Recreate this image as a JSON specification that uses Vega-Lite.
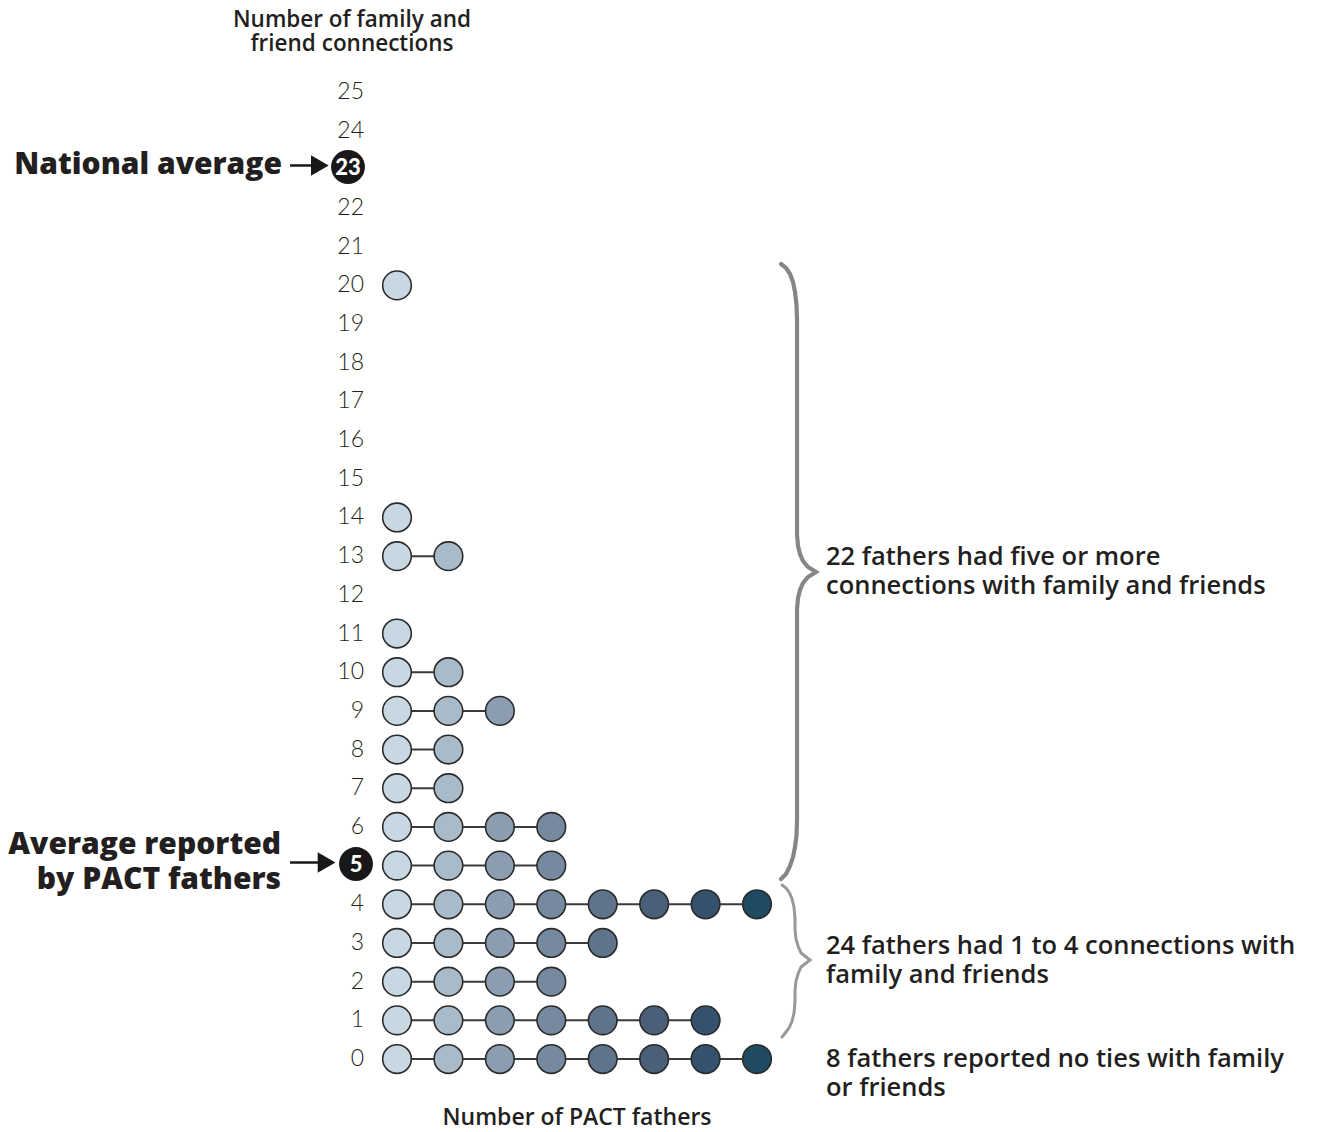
{
  "$schema": "https://vega.github.io/schema/vega-lite/v6.json",
  "width": 1317,
  "height": 1132,
  "autosize": {"type": "none"},
  "padding": 0,
  "background": "white",
  "config": {"view": {"stroke": null}, "text": {"font": "Open Sans", "color": "#231f20"}},
  "datasets": {
    "one": [{}],
    "dots": [
      {"connections": 20, "father": 1},
      {"connections": 14, "father": 1},
      {"connections": 13, "father": 1}, {"connections": 13, "father": 2},
      {"connections": 11, "father": 1},
      {"connections": 10, "father": 1}, {"connections": 10, "father": 2},
      {"connections": 9, "father": 1}, {"connections": 9, "father": 2}, {"connections": 9, "father": 3},
      {"connections": 8, "father": 1}, {"connections": 8, "father": 2},
      {"connections": 7, "father": 1}, {"connections": 7, "father": 2},
      {"connections": 6, "father": 1}, {"connections": 6, "father": 2}, {"connections": 6, "father": 3}, {"connections": 6, "father": 4},
      {"connections": 5, "father": 1}, {"connections": 5, "father": 2}, {"connections": 5, "father": 3}, {"connections": 5, "father": 4},
      {"connections": 4, "father": 1}, {"connections": 4, "father": 2}, {"connections": 4, "father": 3}, {"connections": 4, "father": 4},
      {"connections": 4, "father": 5}, {"connections": 4, "father": 6}, {"connections": 4, "father": 7}, {"connections": 4, "father": 8},
      {"connections": 3, "father": 1}, {"connections": 3, "father": 2}, {"connections": 3, "father": 3}, {"connections": 3, "father": 4}, {"connections": 3, "father": 5},
      {"connections": 2, "father": 1}, {"connections": 2, "father": 2}, {"connections": 2, "father": 3}, {"connections": 2, "father": 4},
      {"connections": 1, "father": 1}, {"connections": 1, "father": 2}, {"connections": 1, "father": 3}, {"connections": 1, "father": 4},
      {"connections": 1, "father": 5}, {"connections": 1, "father": 6}, {"connections": 1, "father": 7},
      {"connections": 0, "father": 1}, {"connections": 0, "father": 2}, {"connections": 0, "father": 3}, {"connections": 0, "father": 4},
      {"connections": 0, "father": 5}, {"connections": 0, "father": 6}, {"connections": 0, "father": 7}, {"connections": 0, "father": 8}
    ],
    "levels": [
      {"connections": 0}, {"connections": 1}, {"connections": 2}, {"connections": 3}, {"connections": 4},
      {"connections": 5}, {"connections": 6}, {"connections": 7}, {"connections": 8}, {"connections": 9},
      {"connections": 10}, {"connections": 11}, {"connections": 12}, {"connections": 13}, {"connections": 14},
      {"connections": 15}, {"connections": 16}, {"connections": 17}, {"connections": 18}, {"connections": 19},
      {"connections": 20}, {"connections": 21}, {"connections": 22}, {"connections": 23}, {"connections": 24},
      {"connections": 25}
    ],
    "braces": [
      {"brace": "A", "o": 1, "c": 8.467, "v": 20.553},
      {"brace": "A", "o": 2, "c": 8.564, "v": 20.450},
      {"brace": "A", "o": 3, "c": 8.642, "v": 20.295},
      {"brace": "A", "o": 4, "c": 8.700, "v": 20.088},
      {"brace": "A", "o": 5, "c": 8.739, "v": 19.829},
      {"brace": "A", "o": 6, "c": 8.768, "v": 19.493},
      {"brace": "A", "o": 7, "c": 8.778, "v": 19.105},
      {"brace": "A", "o": 8, "c": 8.778, "v": 13.547},
      {"brace": "A", "o": 9, "c": 8.797, "v": 13.263},
      {"brace": "A", "o": 10, "c": 8.836, "v": 13.056},
      {"brace": "A", "o": 11, "c": 8.894, "v": 12.875},
      {"brace": "A", "o": 12, "c": 8.992, "v": 12.720},
      {"brace": "A", "o": 13, "c": 9.147, "v": 12.590},
      {"brace": "A", "o": 14, "c": 8.992, "v": 12.461},
      {"brace": "A", "o": 15, "c": 8.894, "v": 12.306},
      {"brace": "A", "o": 16, "c": 8.836, "v": 12.125},
      {"brace": "A", "o": 17, "c": 8.797, "v": 11.918},
      {"brace": "A", "o": 18, "c": 8.778, "v": 11.634},
      {"brace": "A", "o": 19, "c": 8.778, "v": 6.179},
      {"brace": "A", "o": 20, "c": 8.768, "v": 5.791},
      {"brace": "A", "o": 21, "c": 8.739, "v": 5.481},
      {"brace": "A", "o": 22, "c": 8.700, "v": 5.222},
      {"brace": "A", "o": 23, "c": 8.642, "v": 4.990},
      {"brace": "A", "o": 24, "c": 8.564, "v": 4.783},
      {"brace": "A", "o": 25, "c": 8.467, "v": 4.654},
      {"brace": "B", "o": 1, "c": 8.486, "v": 4.498},
      {"brace": "B", "o": 2, "c": 8.564, "v": 4.421},
      {"brace": "B", "o": 3, "c": 8.632, "v": 4.292},
      {"brace": "B", "o": 4, "c": 8.681, "v": 4.136},
      {"brace": "B", "o": 5, "c": 8.719, "v": 3.930},
      {"brace": "B", "o": 6, "c": 8.739, "v": 3.645},
      {"brace": "B", "o": 7, "c": 8.739, "v": 3.335},
      {"brace": "B", "o": 8, "c": 8.758, "v": 3.102},
      {"brace": "B", "o": 9, "c": 8.797, "v": 2.921},
      {"brace": "B", "o": 10, "c": 8.856, "v": 2.740},
      {"brace": "B", "o": 11, "c": 9.031, "v": 2.559},
      {"brace": "B", "o": 12, "c": 8.856, "v": 2.378},
      {"brace": "B", "o": 13, "c": 8.797, "v": 2.198},
      {"brace": "B", "o": 14, "c": 8.758, "v": 2.017},
      {"brace": "B", "o": 15, "c": 8.739, "v": 1.784},
      {"brace": "B", "o": 16, "c": 8.739, "v": 1.474},
      {"brace": "B", "o": 17, "c": 8.719, "v": 1.189},
      {"brace": "B", "o": 18, "c": 8.681, "v": 0.982},
      {"brace": "B", "o": 19, "c": 8.632, "v": 0.827},
      {"brace": "B", "o": 20, "c": 8.564, "v": 0.698},
      {"brace": "B", "o": 21, "c": 8.486, "v": 0.569}
    ]
  },
  "layer": [
    {
      "data": {"name": "braces"},
      "transform": [{"filter": "datum.brace === 'A'"}],
      "mark": {"type": "line", "stroke": "#858688", "strokeWidth": 4.2, "strokeCap": "round", "strokeJoin": "miter"},
      "encoding": {
        "x": {"field": "c", "type": "quantitative", "scale": {"domain": [-6.719, 18.888], "nice": false, "zero": false}, "axis": null},
        "y": {"field": "v", "type": "quantitative", "scale": {"domain": [-1.887, 27.378], "nice": false, "zero": false}, "axis": null},
        "order": {"field": "o", "type": "quantitative"}
      }
    },
    {
      "data": {"name": "braces"},
      "transform": [{"filter": "datum.brace === 'B'"}],
      "mark": {"type": "line", "stroke": "#98999b", "strokeWidth": 3, "strokeCap": "round", "strokeJoin": "miter"},
      "encoding": {
        "x": {"field": "c", "type": "quantitative", "scale": {"domain": [-6.719, 18.888], "nice": false, "zero": false}, "axis": null},
        "y": {"field": "v", "type": "quantitative", "scale": {"domain": [-1.887, 27.378], "nice": false, "zero": false}, "axis": null},
        "order": {"field": "o", "type": "quantitative"}
      }
    },
    {
      "data": {"name": "dots"},
      "mark": {"type": "rule", "stroke": "#3a3a3a", "strokeWidth": 2},
      "encoding": {
        "x": {"aggregate": "min", "field": "father", "type": "quantitative", "scale": {"domain": [-6.719, 18.888], "nice": false, "zero": false}, "axis": null},
        "x2": {"aggregate": "max", "field": "father"},
        "y": {"field": "connections", "type": "quantitative", "scale": {"domain": [-1.887, 27.378], "nice": false, "zero": false}, "axis": null}
      }
    },
    {
      "data": {"name": "dots"},
      "mark": {"type": "point", "shape": "circle", "filled": true, "size": 820, "stroke": "#2b2b2b", "strokeWidth": 1.6, "opacity": 1},
      "encoding": {
        "x": {"field": "father", "type": "quantitative", "scale": {"domain": [-6.719, 18.888], "nice": false, "zero": false}, "axis": null},
        "y": {"field": "connections", "type": "quantitative", "scale": {"domain": [-1.887, 27.378], "nice": false, "zero": false}, "axis": null},
        "color": {"field": "father", "type": "ordinal", "legend": null,
          "scale": {"domain": [1, 2, 3, 4, 5, 6, 7, 8], "range": ["#c8d8e3", "#a9bac9", "#8c9db1", "#76899e", "#5f738a", "#4b5f78", "#34526e", "#1e4a62"]}}
      }
    },
    {
      "data": {"name": "levels"},
      "transform": [{"filter": "datum.connections !== 23 && datum.connections !== 5"}],
      "mark": {"type": "text", "align": "right", "baseline": "middle", "fontSize": 23, "fontWeight": 300, "font": "Lato"},
      "encoding": {
        "x": {"datum": 0.358, "type": "quantitative", "scale": {"domain": [-6.719, 18.888], "nice": false, "zero": false}, "axis": null},
        "y": {"field": "connections", "type": "quantitative", "scale": {"domain": [-1.887, 27.378], "nice": false, "zero": false}, "axis": null},
        "text": {"field": "connections", "type": "quantitative"}
      }
    },
    {
      "data": {"name": "levels"},
      "transform": [{"filter": "datum.connections === 23"}],
      "layer": [
        {
          "mark": {"type": "point", "shape": "circle", "filled": true, "size": 1150, "color": "#1a1718", "opacity": 1},
          "encoding": {
            "x": {"datum": 0.047, "type": "quantitative", "scale": {"domain": [-6.719, 18.888], "nice": false, "zero": false}, "axis": null},
            "y": {"datum": 23.06, "type": "quantitative", "scale": {"domain": [-1.887, 27.378], "nice": false, "zero": false}, "axis": null}
          }
        },
        {
          "mark": {"type": "text", "align": "center", "baseline": "middle", "fontSize": 22, "fontWeight": 900, "font": "Lato", "color": "white", "dy": 1},
          "encoding": {
            "x": {"datum": 0.047, "type": "quantitative", "scale": {"domain": [-6.719, 18.888], "nice": false, "zero": false}, "axis": null},
            "y": {"datum": 23.06, "type": "quantitative", "scale": {"domain": [-1.887, 27.378], "nice": false, "zero": false}, "axis": null},
            "text": {"field": "connections", "type": "quantitative"}
          }
        }
      ]
    },
    {
      "data": {"name": "levels"},
      "transform": [{"filter": "datum.connections === 5"}],
      "layer": [
        {
          "mark": {"type": "point", "shape": "circle", "filled": true, "size": 1150, "color": "#1a1718", "opacity": 1},
          "encoding": {
            "x": {"datum": 0.203, "type": "quantitative", "scale": {"domain": [-6.719, 18.888], "nice": false, "zero": false}, "axis": null},
            "y": {"datum": 5.04, "type": "quantitative", "scale": {"domain": [-1.887, 27.378], "nice": false, "zero": false}, "axis": null}
          }
        },
        {
          "mark": {"type": "text", "align": "center", "baseline": "middle", "fontSize": 22, "fontWeight": 900, "font": "Lato", "color": "white", "dy": 1},
          "encoding": {
            "x": {"datum": 0.203, "type": "quantitative", "scale": {"domain": [-6.719, 18.888], "nice": false, "zero": false}, "axis": null},
            "y": {"datum": 5.04, "type": "quantitative", "scale": {"domain": [-1.887, 27.378], "nice": false, "zero": false}, "axis": null},
            "text": {"field": "connections", "type": "quantitative"}
          }
        }
      ]
    },
    {
      "data": {"name": "one"},
      "mark": {"type": "rule", "stroke": "#1a1718", "strokeWidth": 2.5},
      "encoding": {
        "x": {"datum": -1.08, "type": "quantitative", "scale": {"domain": [-6.719, 18.888], "nice": false, "zero": false}, "axis": null},
        "x2": {"datum": -0.6},
        "y": {"datum": 23.1, "type": "quantitative", "scale": {"domain": [-1.887, 27.378], "nice": false, "zero": false}, "axis": null}
      }
    },
    {
      "data": {"name": "one"},
      "mark": {"type": "point", "shape": "triangle-right", "filled": true, "size": 420, "color": "#1a1718", "opacity": 1},
      "encoding": {
        "x": {"datum": -0.5, "type": "quantitative", "scale": {"domain": [-6.719, 18.888], "nice": false, "zero": false}, "axis": null},
        "y": {"datum": 23.1, "type": "quantitative", "scale": {"domain": [-1.887, 27.378], "nice": false, "zero": false}, "axis": null}
      }
    },
    {
      "data": {"name": "one"},
      "mark": {"type": "rule", "stroke": "#1a1718", "strokeWidth": 2.5},
      "encoding": {
        "x": {"datum": -1.08, "type": "quantitative", "scale": {"domain": [-6.719, 18.888], "nice": false, "zero": false}, "axis": null},
        "x2": {"datum": -0.47},
        "y": {"datum": 5.08, "type": "quantitative", "scale": {"domain": [-1.887, 27.378], "nice": false, "zero": false}, "axis": null}
      }
    },
    {
      "data": {"name": "one"},
      "mark": {"type": "point", "shape": "triangle-right", "filled": true, "size": 420, "color": "#1a1718", "opacity": 1},
      "encoding": {
        "x": {"datum": -0.37, "type": "quantitative", "scale": {"domain": [-6.719, 18.888], "nice": false, "zero": false}, "axis": null},
        "y": {"datum": 5.08, "type": "quantitative", "scale": {"domain": [-1.887, 27.378], "nice": false, "zero": false}, "axis": null}
      }
    },
    {
      "data": {"name": "one"},
      "mark": {"type": "text", "align": "right", "baseline": "middle", "fontSize": 30, "fontWeight": 800, "text": "National average"},
      "encoding": {
        "x": {"datum": -1.236, "type": "quantitative", "scale": {"domain": [-6.719, 18.888], "nice": false, "zero": false}, "axis": null},
        "y": {"datum": 23.11, "type": "quantitative", "scale": {"domain": [-1.887, 27.378], "nice": false, "zero": false}, "axis": null}
      }
    },
    {
      "data": {"name": "one"},
      "mark": {"type": "text", "align": "right", "baseline": "middle", "fontSize": 30, "fontWeight": 800, "lineHeight": 35, "text": ["Average reported", "by PACT fathers"]},
      "encoding": {
        "x": {"datum": -1.255, "type": "quantitative", "scale": {"domain": [-6.719, 18.888], "nice": false, "zero": false}, "axis": null},
        "y": {"datum": 5.53, "type": "quantitative", "scale": {"domain": [-1.887, 27.378], "nice": false, "zero": false}, "axis": null}
      }
    },
    {
      "data": {"name": "one"},
      "mark": {"type": "text", "align": "center", "baseline": "middle", "fontSize": 22.5, "fontWeight": 600, "lineHeight": 24, "text": ["Number of family and", "friend connections"]},
      "encoding": {
        "x": {"datum": 0.125, "type": "quantitative", "scale": {"domain": [-6.719, 18.888], "nice": false, "zero": false}, "axis": null},
        "y": {"datum": 26.86, "type": "quantitative", "scale": {"domain": [-1.887, 27.378], "nice": false, "zero": false}, "axis": null}
      }
    },
    {
      "data": {"name": "one"},
      "mark": {"type": "text", "align": "center", "baseline": "middle", "fontSize": 23, "fontWeight": 600, "text": "Number of PACT fathers"},
      "encoding": {
        "x": {"datum": 4.5, "type": "quantitative", "scale": {"domain": [-6.719, 18.888], "nice": false, "zero": false}, "axis": null},
        "y": {"datum": -1.525, "type": "quantitative", "scale": {"domain": [-1.887, 27.378], "nice": false, "zero": false}, "axis": null}
      }
    },
    {
      "data": {"name": "one"},
      "mark": {"type": "text", "align": "left", "baseline": "middle", "fontSize": 25.5, "fontWeight": 600, "lineHeight": 29, "text": ["22 fathers had five or more", "connections with family and friends"]},
      "encoding": {
        "x": {"datum": 9.341, "type": "quantitative", "scale": {"domain": [-6.719, 18.888], "nice": false, "zero": false}, "axis": null},
        "y": {"datum": 12.98, "type": "quantitative", "scale": {"domain": [-1.887, 27.378], "nice": false, "zero": false}, "axis": null}
      }
    },
    {
      "data": {"name": "one"},
      "mark": {"type": "text", "align": "left", "baseline": "middle", "fontSize": 25.5, "fontWeight": 600, "lineHeight": 29, "text": ["24 fathers had 1 to 4 connections with", "family and friends"]},
      "encoding": {
        "x": {"datum": 9.341, "type": "quantitative", "scale": {"domain": [-6.719, 18.888], "nice": false, "zero": false}, "axis": null},
        "y": {"datum": 2.92, "type": "quantitative", "scale": {"domain": [-1.887, 27.378], "nice": false, "zero": false}, "axis": null}
      }
    },
    {
      "data": {"name": "one"},
      "mark": {"type": "text", "align": "left", "baseline": "middle", "fontSize": 25.5, "fontWeight": 600, "lineHeight": 29, "text": ["8 fathers reported no ties with family", "or friends"]},
      "encoding": {
        "x": {"datum": 9.341, "type": "quantitative", "scale": {"domain": [-6.719, 18.888], "nice": false, "zero": false}, "axis": null},
        "y": {"datum": 0.0, "type": "quantitative", "scale": {"domain": [-1.887, 27.378], "nice": false, "zero": false}, "axis": null}
      }
    }
  ]
}
